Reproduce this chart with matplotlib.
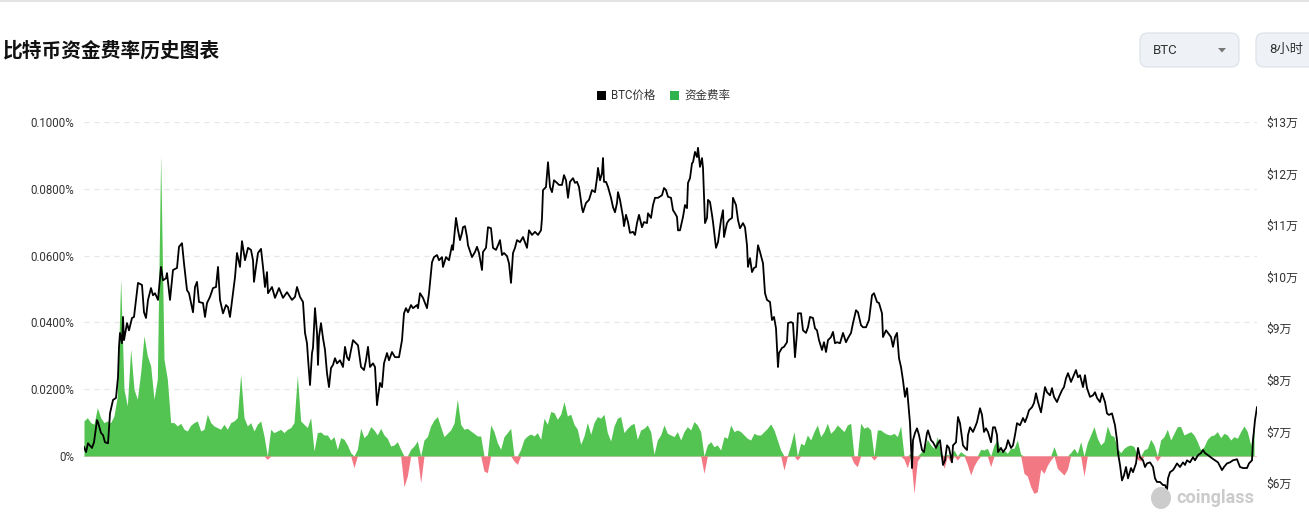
import matplotlib
matplotlib.use("Agg")
import matplotlib.pyplot as plt
from matplotlib.patches import FancyBboxPatch, Rectangle, Polygon, Ellipse
import numpy as np

plt.rcParams['font.family'] = ['Roboto', 'Noto Sans CJK SC', 'DejaVu Sans']

W, H = 1309, 514

# ---------------- data ----------------
title = "比特币资金费率历史图表"
legend_labels = ["BTC价格", "资金费率"]
left_ticks = [0, 0.02, 0.04, 0.06, 0.08, 0.10]
left_tick_labels = ["0%", "0.0200%", "0.0400%", "0.0600%", "0.0800%", "0.1000%"]
right_ticks = [60000, 70000, 80000, 90000, 100000, 110000, 120000, 130000]
right_tick_labels = ["$6万", "$7万", "$8万", "$9万", "$10万", "$11万", "$12万", "$13万"]

# BTC price: time in half-days from the start of the chart, price in USD
price_halfday = [
    0, 2, 4, 8, 10, 13, 14, 17, 19, 21, 24, 26, 29, 32, 34, 35, 36, 38, 39, 40,
    43, 45, 48, 50, 52, 54, 58, 60, 62, 64, 67, 69, 71, 74, 77, 79, 82, 83, 86, 89,
    93, 95, 98, 100, 103, 105, 109, 111, 113, 115, 119, 121, 123, 126, 129, 132, 134, 136, 139, 142,
    144, 146, 149, 151, 153, 156, 158, 161, 164, 167, 169, 170, 172, 174, 177, 179, 181, 183, 184, 188,
    191, 195,
    199, 203, 208, 211, 213, 216, 219, 221, 223, 224, 226, 228, 229, 231, 233, 234, 235, 237, 239, 241,
    243, 245, 247, 249, 251, 253, 256, 259, 261, 263, 265, 269, 271, 274, 277, 280, 282, 284, 286, 289,
    291, 293, 294, 296, 298, 300, 303, 305, 308, 311, 315, 318, 320, 322, 324, 327, 329, 333, 334, 336,
    339, 343, 345, 348, 350, 353, 355, 358, 359, 362, 365, 368, 369, 372, 374, 376, 378, 379, 381, 383,
    384, 388, 391, 393, 395,
    398, 399, 402, 404, 407, 409, 412, 414, 416, 418, 420, 423, 425, 427, 429, 431, 433, 436, 439, 443,
    445, 448, 451, 454, 457, 458, 459, 462, 464, 466, 468, 470, 473, 475, 478, 480, 482, 484, 486, 489,
    491, 493, 495, 498, 499, 502, 505, 508, 511, 513, 514, 516, 518, 519, 520, 522, 524, 527, 529, 531,
    533, 534, 536, 539, 540, 542, 544, 546, 549, 551, 553, 555, 558, 560, 563, 564, 567, 569, 571, 574,
    578, 580, 582, 584, 587, 589, 591, 593, 594, 596,
    599, 601, 603, 604, 606, 608, 609, 611, 613, 614, 616, 618, 619, 621, 623, 624, 626, 628, 629, 632,
    634, 637, 639, 640, 643, 645, 648, 649, 652, 654, 656, 659, 661, 663, 664, 666, 668, 670, 672, 674,
    676, 679, 681, 683, 686, 688, 690, 692, 694, 695, 698, 700, 703, 704, 707, 709, 711, 713, 714, 717,
    719, 722, 724, 726, 729, 731, 733, 735, 738, 740, 742, 744, 747, 749, 751, 753, 756, 759, 762, 764,
    767, 769, 772, 774, 777, 779, 782, 785, 788, 790, 793, 795,
    798, 799, 802, 804, 807, 809, 811, 813, 815, 817, 819, 821, 823, 824, 826, 828, 829, 831, 833, 835,
    838, 840, 843, 844, 847, 849, 852, 854, 856, 859, 861, 863, 865, 868, 869, 872, 874, 876, 879, 881,
    883, 884, 886, 889, 891, 893, 896, 898, 900, 902, 904, 907, 909, 911, 913, 914, 917, 919, 922, 924,
    927, 929, 931, 933, 936, 939, 941, 943, 945, 948, 950, 952, 954, 957, 959, 961, 963, 966, 968, 970,
    973, 975, 978, 980, 982, 984, 987, 989, 992, 994,
    996, 999, 1001, 1003, 1006, 1009, 1011, 1013, 1016, 1018, 1021, 1023, 1025, 1028, 1031, 1033, 1034, 1036, 1038, 1040,
    1042, 1044, 1047, 1049, 1052, 1054, 1056, 1059, 1061, 1063, 1066, 1069, 1071, 1073, 1076, 1079, 1081, 1083, 1084, 1086,
    1089, 1091, 1093, 1096, 1099, 1101, 1103, 1106, 1109, 1111, 1114, 1117, 1119, 1121, 1124, 1128, 1131, 1134, 1138, 1140,
    1143, 1146, 1149, 1153, 1156, 1159, 1163, 1165, 1168, 1169, 1171, 1173,
]
price_usd = [
    67000, 66000, 67700, 66800, 67900, 72200, 71800, 69700, 69300, 67900, 67700, 73500, 76100, 76500, 80500, 86400, 89100, 87100, 92200, 87700,
    91000, 89600, 92000, 92200, 95500, 98800, 98400, 93100, 92000, 95500, 97800, 96400, 96800, 95500, 101900, 99300, 99700, 100700, 95500, 101300,
    101700, 105800, 106500, 102600, 97400, 96800, 93100, 98000, 99000, 95100, 94900, 92200, 94900, 96100, 97800, 98000, 101900, 95500, 92900, 94500,
    94100, 92200, 96800, 99900, 104600, 101900, 106900, 103200, 105600, 105200, 103200, 99000, 101900, 104600, 105400, 101900, 98000, 100900, 96800, 98000,
    95900, 97800,
    95900, 97000, 95500, 96100, 98000, 96100, 95100, 89100, 87100, 84200, 79000, 85200, 86200, 93900, 89100, 82900, 88300, 91000, 88100, 85800,
    81300, 78600, 82300, 82900, 84200, 83200, 83800, 82500, 86400, 84400, 83800, 87700, 87300, 86700, 82500, 81900, 83800, 86400, 82500, 83200,
    82500, 75100, 76700, 79400, 78600, 83200, 85200, 83800, 85400, 84400, 84400, 87700, 92900, 93900, 93100, 94500, 93900, 94500, 93900, 96800,
    95900, 93900, 96800, 102800, 103800, 104200, 103200, 103800, 101900, 103800, 103200, 106100, 105200, 111400, 109000, 107100, 108500, 109600, 109800, 107700,
    106100, 103800, 104800, 105800, 104600,
    101300, 104800, 105600, 109600, 109400, 105600, 105200, 106100, 107100, 104200, 104600, 104000, 102600, 98800, 104600, 105600, 107100, 106700, 107700, 105600,
    109000, 108100, 108700, 108100, 109000, 111400, 116800, 117400, 122200, 117400, 116400, 118700, 118200, 117800, 117800, 119700, 118700, 115300, 118400, 119100,
    118200, 118400, 117400, 113300, 112500, 114300, 114900, 116800, 116400, 119100, 121100, 118700, 120100, 123000, 118400, 118400, 117400, 115300, 113500, 112500,
    114300, 116400, 114900, 111600, 109800, 112000, 110600, 108500, 108700, 108100, 110400, 112000, 109600, 110600, 110400, 112300, 111400, 113900, 115300, 115300,
    115800, 117200, 116800, 115500, 115300, 112900, 112300, 111600, 109000, 109000,
    111600, 113900, 113300, 118200, 119100, 122000, 122200, 124200, 123200, 125000, 121300, 123000, 121100, 110400, 111400, 114900, 114500, 112000, 110600, 105600,
    106700, 111000, 112900, 107700, 110400, 111000, 111400, 115300, 113900, 111000, 109400, 110400, 109600, 106100, 101900, 103600, 100900, 101700, 101900, 106100,
    104800, 102600, 96800, 95500, 95100, 91600, 92200, 90000, 82500, 85200, 86200, 86400, 87300, 91000, 91200, 91000, 84400, 89100, 92900, 92900,
    89600, 89100, 90200, 92200, 92000, 90000, 89600, 87700, 85800, 87300, 85400, 87700, 88300, 89300, 87100, 87300, 87100, 89100, 87300, 88100,
    89100, 91000, 93500, 93100, 90600, 90200, 90200, 91600, 96400, 96800, 95100, 94900,
    92900, 88300, 89600, 89100, 88300, 86400, 88300, 89100, 84200, 82500, 79900, 76700, 78400, 76100, 71600, 62900, 68300, 69700, 70600, 69300,
    66400, 66000, 69700, 70200, 68300, 67900, 66800, 67700, 68300, 63500, 64400, 67300, 66800, 64000, 67300, 67900, 72800, 71600, 67300, 66800,
    66400, 69300, 70800, 69900, 70800, 71800, 74500, 73200, 69900, 70600, 69900, 67900, 70800, 70800, 69300, 66000, 66800, 66000, 66800, 68300,
    66800, 67300, 69300, 71600, 71200, 72600, 71800, 72800, 74100, 74700, 75500, 77400, 75700, 73700, 76100, 78600, 77600, 77000, 78400, 76700,
    75700, 76700, 78000, 78600, 80300, 81300, 79600, 80500, 81900, 80500,
    80900, 78600, 80900, 78400, 76700, 77000, 77600, 76500, 75700, 77400, 75700, 73500, 73200, 73500, 71200, 68300, 65800, 63500, 60500, 61500,
    63100, 60900, 62900, 62100, 63800, 66800, 65000, 64400, 63100, 63800, 64000, 63100, 60900, 60200, 60200, 59600, 59600, 58600, 60900, 62100,
    62500, 63100, 63800, 63100, 64000, 63500, 64400, 64000, 65000, 64400, 65400, 65800, 66400, 65800, 65400, 64800, 64400, 64000, 62500, 63100,
    63800, 64000, 64400, 64600, 63100, 62900, 62900, 63800, 64400, 68300, 72200, 74700,
]

# Funding rate, one reading every 5th 8-hour period (40 h), in units of 0.0001 %
funding_step_hours = 40
funding_e4 = [
    105, 115, 100, 95, 145, 115, 100, 105, 100, 120, 180, 530, 200, 150, 320, 200, 170, 250, 360, 300,
    270, 170, 230, 900, 290, 230, 100, 100, 90, 98, 80, 75, 92, 100, 105, 75, 80, 125, 100, 90,
    85, 80, 95, 80, 100, 105, 115, 245, 115, 90, 100, 75, 95, 105, 60, -10, 80, 70, 75, 80,
    70, 80, 85, 100, 240, 105, 95, 85, 115, 15, 70, 72, 63, 63, 48, 58, 20, 55, 50, 33,
    10, -35, 20, 83, 55, 65, 88, 78, 63, 83, 63, 53, 30, 33, 43, 20, -92, -60, 20, 30,
    45, -80, 48, 58, 90, 108, 118, 88, 58, 68, 78, 98, 170, 95, 80, 83, 75, 68, 60, 60,
    -45, -50, 93, 73, 40, 20, 58, 70, 83, -15, -25, 20, 50, 60, 66, 60, 70, 50, 113, 95,
    133, 130, 110, 125, 163, 120, 125, 95, 80, 35, 60, 100, 65, 100, 118, 113, 125, 70, 45, 90,
    113, 118, 70, 83, 93, 98, 50, 78, 83, 93, 73, 5, 48, 63, 93, 68, 63, 58, 73, 48,
    73, 88, 78, 103, 93, 73, -52, 33, 43, 28, 33, 18, 58, 53, 93, 73, 78, 73, 63, 53,
    48, 68, 63, 63, 73, 83, 96, 78, 48, 18, -42, -2, 33, 73, -12, 38, 33, 63, 48, 73,
    93, 58, 73, 98, 68, 78, 93, 83, 73, 93, 98, -22, -32, 98, 83, 88, 78, -12, 78, 78,
    70, 65, 63, 68, 58, 90, -10, -35, 8, -112, -15, 10, 23, 50, 33, 23, 58, 8, -37, 5,
    -20, 18, -12, 13, 5, -25, -57, -30, -12, 20, 18, 23, -32, 33, 48, 13, 18, 8, 23, 23,
    48, 5, -52, -60, -92, -112, -107, -40, -52, -28, -12, 28, -37, -47, -57, -40, 10, 23, 8, 43,
    -60, 40, 63, 88, 53, 33, 43, 90, 63, 58, 23, 10, 23, 30, 33, 28, -10, -15, 18, 23,
    50, 33, -15, 48, 58, 80, 48, 68, 88, 88, 63, 68, 73, 63, 43, 18, 28, 50, 60, 63,
    73, 55, 68, 63, 48, 58, 53, 73, 90, 73, 33, 90,
]

# ---------------- figure ----------------
fig = plt.figure(figsize=(W / 100, H / 100), dpi=100)
fig.patch.set_facecolor("white")


def fx(x):
    return x / W


def fy(y):
    return 1 - y / H


ax_left, ax_right = 84, 1257
ax_top, ax_bottom = 122, 500
ax = fig.add_axes([fx(ax_left), fy(ax_bottom), (ax_right - ax_left) / W, (ax_bottom - ax_top) / H])
ax2 = ax.twinx()

hours_total = (ax_right - ax_left) * 12
zero_y = 456
pct_per_px = 0.1 / (zero_y - ax_top)
ax.set_ylim(-(ax_bottom - zero_y) * pct_per_px, 0.1)
usd_per_px = 70000 / (483 - ax_top)
ax2.set_ylim(130000 - (ax_bottom - ax_top) * usd_per_px, 130000)
ax.set_xlim(0, hours_total)

# funding area (positive green, negative red)
f_t = np.arange(len(funding_e4)) * funding_step_hours
f_v = np.array(funding_e4) / 10000.0
pos = np.clip(f_v, 0, None)
neg = np.clip(f_v, None, 0)
ax.fill_between(f_t, 0, pos, color="#53c452", linewidth=0, zorder=2)
ax.fill_between(f_t, 0, neg, color="#f0606f", linewidth=0, alpha=0.85, zorder=2)
ax.axhline(0, color="#f7c9cf", lw=0.8, zorder=1)

# grid
for v in left_ticks[1:]:
    ax.axhline(v, color="#e6e6e6", lw=0.9, dashes=(4, 4), zorder=0)

# price line
p_t = np.array(price_halfday) * 12
ax2.plot(p_t, price_usd, color="black", lw=1.3, zorder=5, solid_joinstyle="round")

for a in (ax, ax2):
    for s in a.spines.values():
        s.set_visible(False)
    a.tick_params(axis="x", length=0, labelbottom=False)
    a.tick_params(axis="y", length=0)
ax.set_xticks([])

ax.set_yticks(left_ticks)
ax.set_yticklabels(left_tick_labels, fontsize=8.3, color="#333333")
ax.tick_params(axis="y", pad=7)
ax2.set_yticks(right_ticks)
ax2.set_yticklabels(right_tick_labels, fontsize=8.6, color="#333333")
ax2.tick_params(axis="y", pad=7)
for lbl in ax2.get_yticklabels():
    lbl.set_family(["Roboto", "Noto Sans CJK SC"])

# ---------------- decorations ----------------
# top border
fig.add_artist(Rectangle((0, fy(1.5)), 1, 1.5 / H, transform=fig.transFigure,
                         color="#e3e3e3", lw=0))

# title
fig.text(fx(3), fy(51), title, fontsize=14.2, fontweight="bold", color="#111111",
         va="center", ha="left", family=["Noto Sans CJK SC", "DejaVu Sans"])

# legend
fig.add_artist(Rectangle((fx(597), fy(100)), 9 / W, 9 / H, transform=fig.transFigure,
                         color="black", lw=0))
fig.text(fx(611), fy(95.5), legend_labels[0], fontsize=8.3, color="#333333", va="center",
         ha="left", family=["Roboto", "Noto Sans CJK SC"])
fig.add_artist(Rectangle((fx(670), fy(100)), 9 / W, 9 / H, transform=fig.transFigure,
                         color="#2fb34d", lw=0))
fig.text(fx(684), fy(95.5), legend_labels[1], fontsize=8.3, color="#333333", va="center",
         ha="left", family=["Noto Sans CJK SC", "DejaVu Sans"])

# buttons
for (x0, x1, label) in [(1140, 1239, "BTC"), (1256, 1330, "8小时")]:
    fig.add_artist(FancyBboxPatch((fx(x0), fy(67)), (x1 - x0) / W, 34 / H,
                                  boxstyle="round,pad=0,rounding_size=0.006",
                                  transform=fig.transFigure, facecolor="#eef2f6",
                                  edgecolor="#dde3e9", lw=0.9, mutation_aspect=W / H))
    fig.text(fx(x0 + 13), fy(50), label, fontsize=9.5, color="#333333", va="center",
             ha="left", family=["Roboto", "Noto Sans CJK SC"])
fig.add_artist(Polygon([(fx(1218), fy(48)), (fx(1226), fy(48)), (fx(1222), fy(52.5))],
                       closed=True, transform=fig.transFigure, color="#777777", lw=0))

# watermark
fig.add_artist(Ellipse((fx(1161), fy(498)), 20 / W, 22 / H, transform=fig.transFigure,
                       color="#cccccc", lw=0, zorder=6))
fig.text(fx(1176), fy(498), "coinglass", fontsize=13, fontweight="bold", color="#cbcbcb",
         va="center", ha="left", family=["Roboto", "DejaVu Sans"], zorder=6)

fig.savefig("out.png", dpi=100, facecolor="white")
